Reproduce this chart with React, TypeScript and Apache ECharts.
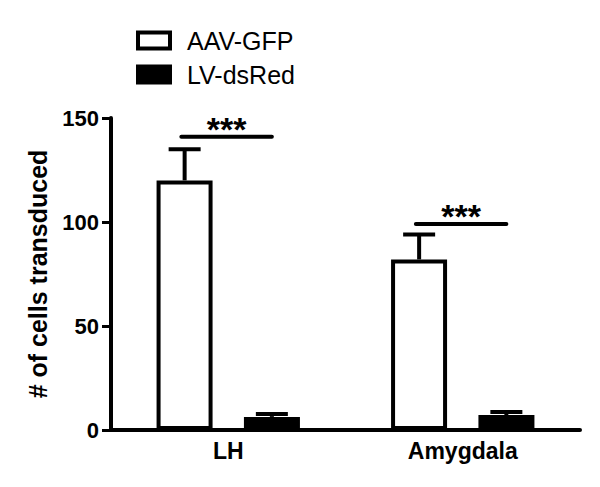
import React, { useEffect, useRef } from "react";
import * as echarts from "echarts";

const categories = ["LH", "Amygdala"];
const seriesNames = ["AAV-GFP", "LV-dsRed"];
const aavMeans = [120, 82];
const aavErrTop = [135, 94];
const lvMeans = [6.3, 7.2];
const lvErrTop = [7.7, 8.7];
const sigLevels = [141, 99];
const sigLabels = ["***", "***"];
const yMin = 0;
const yMax = 150;
const yInterval = 50;

const FONT = "'Liberation Sans', Arial, sans-serif";
const OFF = 0.186;

export default function App() {
  const ref = useRef<HTMLDivElement>(null);
  useEffect(() => {
    if (!ref.current) return;
    const chart = echarts.init(ref.current, undefined, { renderer: "svg" });
    const errData = [
      ...categories.map((_, i) => [i, aavMeans[i], aavErrTop[i], -1]),
      ...categories.map((_, i) => [i, lvMeans[i], lvErrTop[i], 1]),
    ];
    const sigData = categories.map((_, i) => [i, sigLevels[i], sigLabels[i]]);
    const option: any = {
      animation: false,
      backgroundColor: "#fff",
      textStyle: { fontFamily: FONT },
      legend: {
        data: seriesNames,
        orient: "vertical",
        left: 131,
        top: 23,
        itemWidth: 32,
        itemHeight: 16,
        itemGap: 9,
        icon: "rect",
        textStyle: { fontSize: 25, color: "#000", fontFamily: FONT, padding: [0, 0, 0, 12] },
        itemStyle: { borderWidth: 4, borderColor: "#000" },
      },
      grid: { left: 111, right: 20, top: 118, bottom: 57 },
      xAxis: {
        type: "category",
        data: categories,
        axisLine: { lineStyle: { color: "#000", width: 4 } },
        axisTick: { alignWithLabel: true, length: 7, lineStyle: { width: 3, color: "#000" } },
        axisLabel: { color: "#000", fontSize: 23, fontWeight: "bold", margin: 9, fontFamily: FONT },
      },
      yAxis: {
        type: "value",
        min: yMin,
        max: yMax,
        interval: yInterval,
        name: "# of cells transduced",
        nameLocation: "middle",
        nameGap: 61,
        nameTextStyle: { color: "#000", fontSize: 25, fontWeight: "bold", fontFamily: FONT },
        splitLine: { show: false },
        axisLine: { show: true, lineStyle: { color: "#000", width: 4 } },
        axisTick: { show: true, length: 9, lineStyle: { width: 3, color: "#000" } },
        axisLabel: { color: "#000", fontSize: 22, fontWeight: "bold", margin: 12, fontFamily: FONT },
      },
      series: [
        {
          name: seriesNames[0],
          type: "bar",
          data: aavMeans,
          barWidth: 56,
          barGap: "56%",
          itemStyle: { color: "#fff", borderColor: "#000", borderWidth: 4 },
        },
        {
          name: seriesNames[1],
          type: "bar",
          data: lvMeans,
          barWidth: 56,
          itemStyle: { color: "#000", borderColor: "#000", borderWidth: 4 },
        },
        {
          type: "custom",
          name: "err",
          data: errData,
          z: 5,
          encode: { x: 0, y: 2 },
          renderItem: (params: any, api: any) => {
            const idx = api.value(0);
            const mean = api.value(1);
            const top = api.value(2);
            const side = api.value(3);
            const band = api.size([1, 0])[0];
            const c = api.coord([idx, mean]);
            const t = api.coord([idx, top]);
            const x = c[0] + side * band * OFF;
            return {
              type: "group",
              children: [
                { type: "line", shape: { x1: x, y1: c[1], x2: x, y2: t[1] }, style: { stroke: "#000", lineWidth: 4 } },
                { type: "line", shape: { x1: x - 16, y1: t[1], x2: x + 16, y2: t[1] }, style: { stroke: "#000", lineWidth: 4 } },
              ],
            };
          },
        },
        {
          type: "custom",
          name: "sig",
          data: sigData,
          z: 5,
          encode: { x: 0, y: 1 },
          renderItem: (params: any, api: any) => {
            const idx = api.value(0);
            const lvl = api.value(1);
            const band = api.size([1, 0])[0];
            const c = api.coord([idx, lvl]);
            const x1 = c[0] - band * 0.2;
            const x2 = c[0] + band * OFF;
            return {
              type: "group",
              children: [
                { type: "line", shape: { x1, y1: c[1], x2, y2: c[1] }, style: { stroke: "#000", lineWidth: 4, lineCap: "round" } },
                {
                  type: "text",
                  x: (x1 + x2) / 2,
                  y: c[1] - 8,
                  style: { text: sigLabels[params.dataIndex], fontSize: 34, fontWeight: "bold", fontFamily: FONT, fill: "#000", align: "center", verticalAlign: "middle" },
                },
              ],
            };
          },
        },
      ],
    };
    chart.setOption(option);
    return () => chart.dispose();
  }, []);
  return <div ref={ref} style={{ width: 600, height: 487, position: "absolute", left: 0, top: 0 }} />;
}
